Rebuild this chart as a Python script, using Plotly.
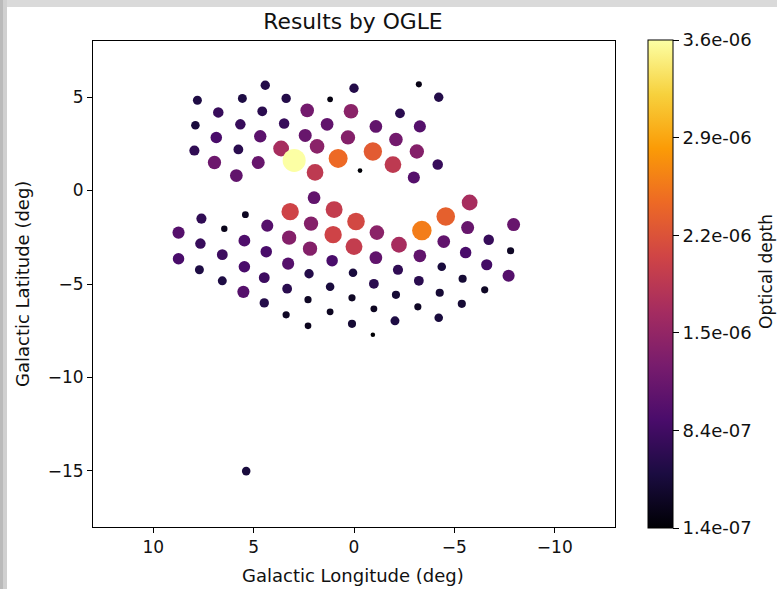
import plotly.graph_objects as go

# Galactic longitude (deg), latitude (deg), optical depth
glon = [
    4.42, 7.80, 5.56, 3.38, 1.19, 0.00, -3.23, -4.22,
    6.76, 4.57, 2.33, 0.15, -2.29,
    7.90, 5.66, 3.48, 1.34, -1.09, -3.28,
    6.86, 4.67, 2.43, 0.30, -2.09,
    7.95, 5.76, 3.63, 1.84, -3.13,
    6.95, 4.77, 2.98, 0.79, -0.94, -1.94, -4.17,
    5.86, 1.94, -0.30, -2.98,
    1.99, 3.18, 0.99, -5.76, 7.60, 5.41, -0.10, -4.57,
    8.74, 6.46, 4.32, 2.14, 1.04, -1.14, -3.38, -5.66, -7.95,
    3.23, 5.46, 7.65, 0.00, -2.24, -4.47, -6.71, 2.19,
    8.74, 6.56, 4.37, -7.80, -5.56, -3.28, -1.09, 1.09, 3.28, 5.46, 7.70,
    -6.61, -4.37, -2.19, 0.05, 2.24, 4.47, 6.56,
    -7.70, -5.41, -3.23, -0.99, 1.19, 3.33, 5.51,
    -6.51, -4.27, -2.09, 0.10, 2.29, 4.47,
    -5.37, -3.18, -0.99, 1.19, 3.38,
    -4.22, -2.04, 0.10, 2.29, -0.94,
    5.37,
]
glat = [
    5.63, 4.83, 4.93, 4.93, 4.88, 5.47, 5.68, 4.99,
    4.18, 4.24, 4.29, 4.24, 4.13,
    3.49, 3.54, 3.59, 3.54, 3.43, 3.43,
    2.84, 2.90, 2.95, 2.84, 2.73,
    2.14, 2.20, 2.25, 2.36, 2.09,
    1.50, 1.50, 1.61, 1.72, 2.09, 1.39, 1.39,
    0.80, 0.97, 1.07, 0.70,
    -0.38, -1.13, -1.02, -0.64, -1.50, -1.29, -1.66, -1.39,
    -2.25, -2.04, -1.88, -1.77, -2.36, -2.25, -2.14, -1.98, -1.82,
    -2.52, -2.68, -2.84, -3.00, -2.90, -2.73, -2.63, -3.11,
    -3.65, -3.43, -3.27, -3.22, -3.32, -3.49, -3.59, -3.75, -3.91, -4.08, -4.24,
    -3.97, -4.08, -4.24, -4.40, -4.45, -4.66, -4.83,
    -4.56, -4.72, -4.83, -4.99, -5.15, -5.25, -5.42,
    -5.31, -5.47, -5.58, -5.74, -5.84, -6.01,
    -6.06, -6.22, -6.33, -6.49, -6.65,
    -6.81, -6.97, -7.13, -7.24, -7.72,
    -15.01,
]
tau = [
    6.0e-7, 5.5e-7, 5.5e-7, 6.0e-7, 2.2e-7, 6.0e-7, 2.5e-7, 6.0e-7,
    7.5e-7, 6.5e-7, 1.25e-6, 1.45e-6, 6.5e-7,
    5.0e-7, 7.5e-7, 7.5e-7, 1.1e-6, 1.1e-6, 1.0e-6,
    9.0e-7, 1.05e-6, 1.15e-6, 1.4e-6, 1.25e-6,
    7.0e-7, 6.5e-7, 1.7e-6, 1.45e-6, 1.4e-6,
    1.2e-6, 1.15e-6, 3.6e-6, 2.45e-6, 2.3e-6, 1.9e-6, 7.5e-7,
    1.1e-6, 1.9e-6, 1.5e-7, 1.0e-6,
    1.1e-6, 2.05e-6, 1.95e-6, 1.7e-6, 7.0e-7, 3.2e-7, 2.1e-6, 2.35e-6,
    1.0e-6, 2.8e-7, 1.0e-6, 1.4e-6, 2.05e-6, 1.45e-6, 2.6e-6, 1.15e-6, 1.15e-6,
    1.4e-6, 9.5e-7, 7.5e-7, 1.95e-6, 1.7e-6, 1.1e-6, 7.5e-7, 1.4e-6,
    9.0e-7, 8.0e-7, 9.0e-7, 3.5e-7, 9.0e-7, 1.1e-6, 1.1e-6, 9.0e-7, 1.0e-6, 9.0e-7, 5.5e-7,
    8.5e-7, 5.0e-7, 7.0e-7, 5.0e-7, 6.0e-7, 8.0e-7, 5.5e-7,
    1.0e-6, 4.5e-7, 6.5e-7, 6.5e-7, 5.0e-7, 6.5e-7, 1.0e-6,
    3.5e-7, 4.5e-7, 4.5e-7, 3.5e-7, 3.5e-7, 6.0e-7,
    4.5e-7, 3.5e-7, 3.2e-7, 3.2e-7, 3.5e-7,
    5.0e-7, 5.5e-7, 4.5e-7, 3.0e-7, 1.4e-7,
    5.0e-7,
]

cbar_ticks = [1.4e-7, 8.32e-7, 1.524e-6, 2.216e-6, 2.908e-6, 3.6e-6]
cbar_labels = ["1.4e-07", "8.4e-07", "1.5e-06", "2.2e-06", "2.9e-06", "3.6e-06"]
x_ticks = [10, 5, 0, -5, -10]
y_ticks = [5, 0, -5, -10, -15]

FONT = "DejaVu Sans"
TXT = "#111111"
W, H = 777, 589
L, R, T, B = 93, 615, 41, 527
PW, PH = R - L, B - T

vmin, vmax = min(cbar_ticks), max(cbar_ticks)
dmax = 23.0


def px2paper_x(p):
    return (p - L) / PW


def px2paper_y(p):
    return (B - p) / PH


fig = go.Figure(go.Scatter(
    x=glon, y=glat, mode="markers",
    marker=dict(
        size=tau, sizemode="area", sizeref=2 * vmax / dmax ** 2,
        color=tau, colorscale="Inferno", cmin=vmin, cmax=vmax,
        line=dict(width=0), opacity=1,
        colorbar=dict(
            x=px2paper_x(648), xanchor="left", xpad=0,
            y=px2paper_y(284), yanchor="middle", ypad=0,
            lenmode="pixels", len=488, thickness=25,
            outlinecolor="black", outlinewidth=1,
            ticks="outside", ticklen=6, tickcolor="black",
            tickvals=cbar_ticks, ticktext=cbar_labels,
            tickfont=dict(family=FONT, size=18, color=TXT),
        ),
    ),
    showlegend=False, hoverinfo="skip",
))

# page frame (grey strips at top and left)
fig.add_shape(type="rect", xref="paper", yref="paper", layer="below",
              x0=px2paper_x(0), x1=px2paper_x(W), y0=px2paper_y(7), y1=px2paper_y(0),
              fillcolor="#dadada", line=dict(width=0))
fig.add_shape(type="rect", xref="paper", yref="paper", layer="below",
              x0=px2paper_x(3), x1=px2paper_x(7), y0=px2paper_y(H), y1=px2paper_y(0),
              fillcolor="#d0d0d0", line=dict(width=0))
fig.add_shape(type="rect", xref="paper", yref="paper", layer="below",
              x0=px2paper_x(0), x1=px2paper_x(3), y0=px2paper_y(H), y1=px2paper_y(0),
              fillcolor="#bababa", line=dict(width=0))

label_font = dict(family=FONT, size=18, color=TXT)
fig.add_annotation(text="Optical depth", xref="paper", yref="paper",
                   x=px2paper_x(766), y=px2paper_y(272), textangle=-90,
                   showarrow=False, xanchor="center", yanchor="middle",
                   font=dict(family=FONT, size=17, color=TXT))
fig.add_annotation(text="Galactic Longitude (deg)", xref="paper", yref="paper",
                   x=px2paper_x(353), y=px2paper_y(575),
                   showarrow=False, xanchor="center", yanchor="middle",
                   font=label_font)
fig.add_annotation(text="Galactic Latitude (deg)", xref="paper", yref="paper",
                   x=px2paper_x(22), y=px2paper_y(284), textangle=-90,
                   showarrow=False, xanchor="center", yanchor="middle",
                   font=label_font)

axis_common = dict(
    showgrid=False, zeroline=False, showline=True, mirror=True,
    linecolor="black", linewidth=1, ticks="outside", ticklen=5,
    tickcolor="black", tickfont=dict(family=FONT, size=17, color=TXT),
    automargin=False,
)

fig.update_layout(
    width=W, height=H,
    margin=dict(l=L, r=W - R, t=T, b=H - B, pad=0, autoexpand=False),
    paper_bgcolor="white", plot_bgcolor="white",
    title=dict(text="Results by OGLE", x=px2paper_x(353), xref="paper",
               xanchor="center", y=1 - 21 / H, yanchor="middle",
               font=dict(family=FONT, size=21.8, color=TXT)),
    xaxis=dict(range=[13, -13], tickvals=x_ticks, **axis_common),
    yaxis=dict(range=[-18, 8], tickvals=y_ticks, **axis_common),
)

fig.write_html(
    "out.html",
    config={"displayModeBar": False},
    post_script="document.body.style.margin='0';document.body.style.overflow='hidden';",
)
